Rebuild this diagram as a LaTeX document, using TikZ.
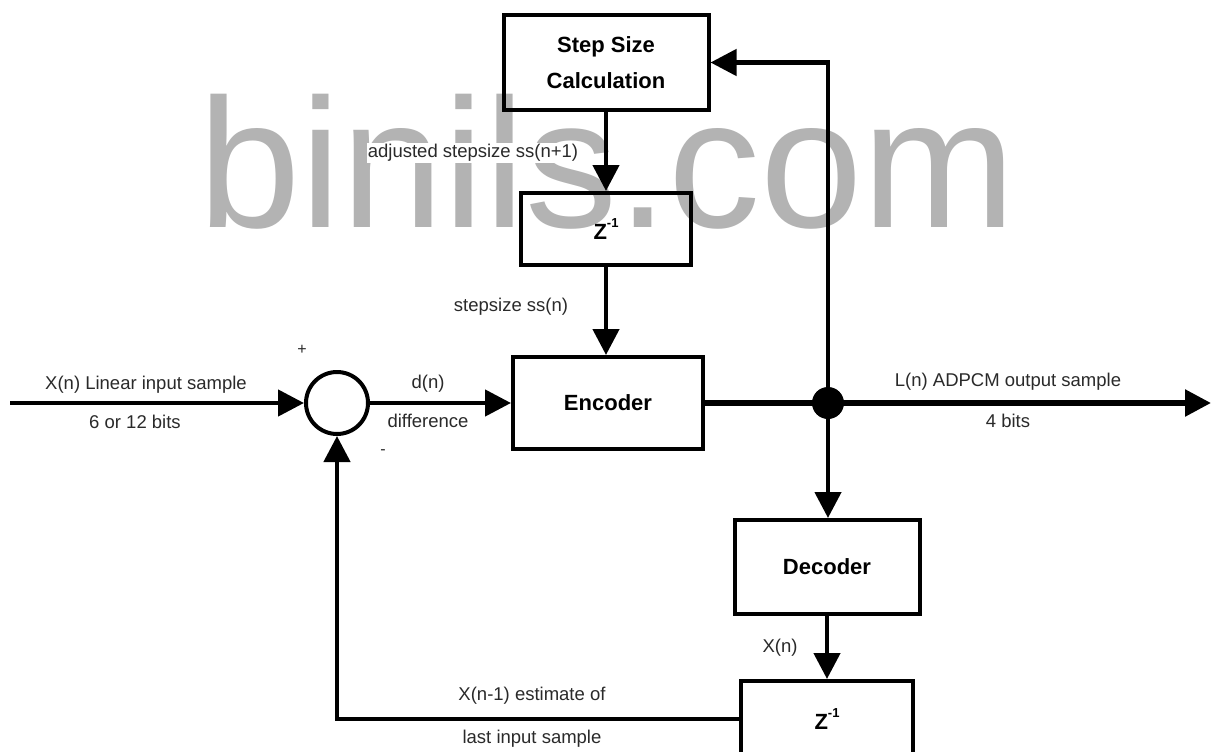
\documentclass[tikz,border=0pt]{standalone}
\usepackage{fontspec}
\setmainfont{Liberation Sans}
\usetikzlibrary{arrows.meta}
\definecolor{wm}{HTML}{B3B3B3}
\definecolor{txt}{HTML}{2A2A2A}
\newcommand{\zinv}{Z\raisebox{0.55em}{\fontsize{13}{13}\selectfont -1}}
\begin{document}
\begin{tikzpicture}[x=1pt,y=-1pt,
  blk/.style={draw=black, line width=4pt, inner sep=0pt, align=center, font=\fontsize{22}{36}\selectfont\bfseries},
  lbl/.style={inner sep=1pt, text=txt, font=\fontsize{18.5}{20}\selectfont},
  sign/.style={inner sep=0pt, text=txt, font=\fontsize{16}{16}\selectfont},
  wire/.style={line width=4.5pt},
  arr/.style={wire, -{Triangle[length=26pt,width=26pt]}},
]
\useasboundingbox (0,0) rectangle (1213,752);
\clip (0,0) rectangle (1213,752);
\fill[white] (0,0) rectangle (1213,752);
% watermark
\node[anchor=base west, inner sep=0pt, text=wm, font=\fontsize{184}{184}\selectfont] (wmark) at (198,227) {binils.com};

% blocks
\node[blk, minimum width=205pt, minimum height=95pt] (step) at (606,62.5) {Step Size\\Calculation};
\node[blk, minimum width=170pt, minimum height=72pt] (zt) at (606,229) {\zinv};
\node[blk, minimum width=190pt, minimum height=92pt] (enc) at (608,403) {Encoder};
\node[blk, minimum width=185pt, minimum height=94pt] (dec) at (827,567) {Decoder};
\node[blk, minimum width=172pt, minimum height=76pt] (zb) at (827,719) {\zinv};
\node[draw=black, line width=4pt, circle, minimum size=62pt, inner sep=0pt] (sum) at (337,403) {};
\node[fill=black, circle, minimum size=32pt, inner sep=0pt] (jn) at (828,403) {};
\coordinate (in) at (10,403);
\coordinate (out) at (1211,403);

% connectors
\draw[arr] (in) -- (sum.west);
\draw[arr] (sum.east) -- (enc.west);
\draw[wire, line width=5.5pt] (enc.east) -- (jn.center);
\draw[arr, line width=5.5pt] (jn.center) -- (out);
\draw[arr] (jn.center) |- (step.east);
\draw[arr] (jn.center) -- (jn.center |- dec.north);
\draw[arr] (step.south) -- (zt.north);
\draw[arr] (zt.south) -- (zt.south |- enc.north);
\draw[arr] (dec.south) -- (zb.north);
\draw[arr] (zb.west) -| (sum.south);

% labels
\node[lbl] (l1) at (146,385) {X(n) Linear input sample};
\node[lbl] (l2) at (135,422) {6 or 12 bits};
\node[sign] (plus) at (302,350) {+};
\node[sign] (minus) at (383,452) {-};
\node[lbl] (l3) at (428,384) {d(n)};
\node[lbl] (l4) at (428,421) {difference};
\node[lbl, fill=white] (l5) at (473,153) {adjusted stepsize ss(n+1)};
\node[lbl] (l6) at (511,307) {stepsize ss(n)};
\node[lbl] (l7) at (1008,382) {L(n) ADPCM output sample};
\node[lbl] (l8) at (1008,421) {4 bits};
\node[lbl] (l9) at (780,648) {X(n)};
\node[lbl] (l10) at (532,696) {X(n-1) estimate of};
\node[lbl] (l11) at (532,739) {last input sample};
\end{tikzpicture}
\end{document}
